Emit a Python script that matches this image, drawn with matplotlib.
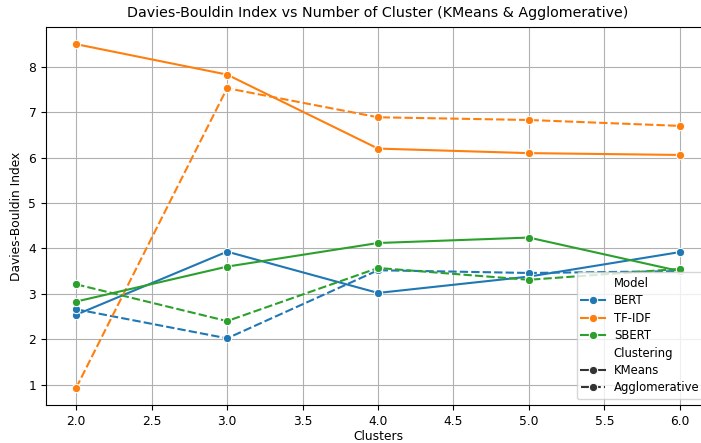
import pandas as pd
import seaborn as sns
from matplotlib import pyplot as plt

clusters = [2, 3, 4, 5, 6]
models = ['BERT', 'TF-IDF', 'SBERT']

# Davies-Bouldin values
bert_kmeans = [2.54, 3.93, 3.02, 3.38, 3.92]
bert_agglo = [2.66, 2.02, 3.52, 3.46, 3.50]
tfidf_kmeans = [8.50, 7.83, 6.20, 6.10, 6.06]
tfidf_agglo = [0.93, 7.53, 6.89, 6.83, 6.70]
sbert_kmeans = [2.83, 3.60, 4.12, 4.24, 3.50]
sbert_agglo = [3.21, 2.40, 3.57, 3.31, 3.55]

series = {
    ('BERT', 'KMeans'): bert_kmeans,
    ('BERT', 'Agglomerative'): bert_agglo,
    ('TF-IDF', 'KMeans'): tfidf_kmeans,
    ('TF-IDF', 'Agglomerative'): tfidf_agglo,
    ('SBERT', 'KMeans'): sbert_kmeans,
    ('SBERT', 'Agglomerative'): sbert_agglo,
}

rows = []
for (m, c), vals in series.items():
    for k, v in zip(clusters, vals):
        rows.append({'Clusters': k, 'Davies-Bouldin Index': v, 'Model': m, 'Clustering': c})
df = pd.DataFrame(rows)

if __name__ == '__main__':
    plt.rcParams['font.size'] = 8.8
    fig = plt.figure(figsize=(7.01, 4.43), dpi=100)
    # axes runs a little past the right edge, like the cropped original
    ax = fig.add_axes([46 / 701, 38 / 443, 664 / 701, 378 / 443])
    sns.lineplot(data=df, x='Clusters', y='Davies-Bouldin Index', hue='Model',
                 hue_order=models, style='Clustering',
                 style_order=['KMeans', 'Agglomerative'], marker='o', ax=ax)
    ax.set_title('Davies-Bouldin Index vs Number of Cluster (KMeans & Agglomerative)',
                 fontsize=10.3, pad=7)
    ax.set_xlabel('Clusters', labelpad=2)
    ax.grid(True)
    ax.legend(loc='lower right', fontsize=8.4, labelspacing=0.38)
    fig.savefig('out.png', dpi=100)
